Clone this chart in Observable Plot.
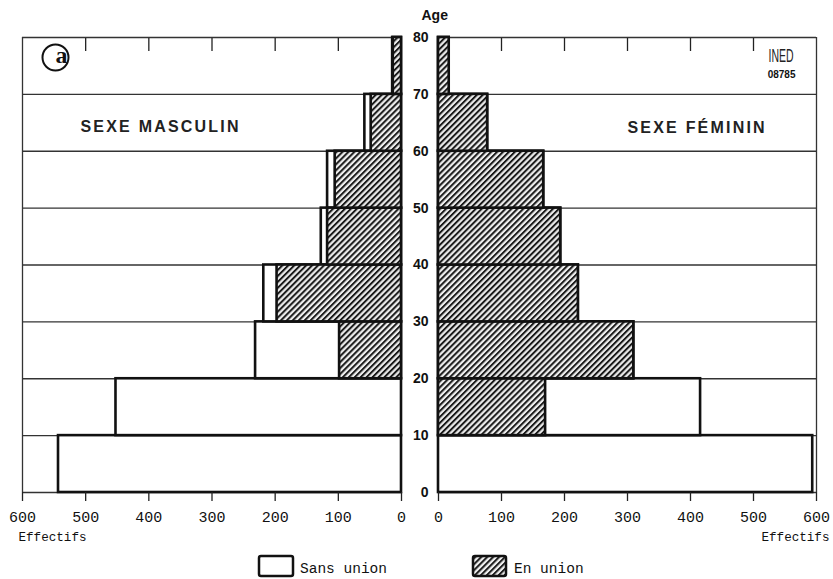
<!DOCTYPE html>
<html><head><meta charset="utf-8">
<script src="https://cdn.jsdelivr.net/npm/d3@7"></script>
<script src="https://cdn.jsdelivr.net/npm/@observablehq/plot@0.6"></script>
<style>
body{margin:0;background:#fff}
#wrap{position:relative;width:833px;height:579px;overflow:hidden;background:#fff}
#left,#right{position:absolute;top:0}
#left{left:0}
#right{left:410px}
.leg{position:absolute;font-family:"Liberation Mono",monospace;font-size:14.5px;color:#111}
g.sexe text{letter-spacing:2.2px}
</style></head><body>
<svg width="0" height="0" style="position:absolute">
 <defs>
  <pattern id="hatch" patternUnits="userSpaceOnUse" width="4.2" height="4.2" patternTransform="rotate(45)">
   <rect width="4.2" height="4.2" fill="#eeeeee"/>
   <line x1="1" y1="0" x2="1" y2="4.2" stroke="#1a1a1a" stroke-width="2"/>
  </pattern>
 </defs>
</svg>
<div id="wrap">
 <div id="left"></div>
 <div id="right"></div>
 <svg class="leg" style="left:257px;top:554px" width="38" height="24"><rect x="2" y="2" width="34" height="20" rx="2" fill="white" stroke="#111" stroke-width="2.5"/></svg>
 <div class="leg" style="left:300px;top:561px">Sans union</div>
 <svg class="leg" style="left:471px;top:554px" width="38" height="24"><rect x="2" y="2" width="33" height="20" rx="2" fill="url(#hatch)" stroke="#111" stroke-width="2.5"/></svg>
 <div class="leg" style="left:514px;top:561px">En union</div>
</div>
<script>
// Data
const ageStart = [0, 10, 20, 30, 40, 50, 60, 70];
const ageEnd = [10, 20, 30, 40, 50, 60, 70, 80];
const maleTotal = [543, 452, 231, 218, 127, 117, 58, 14];
const maleUnion = [0, 0, 98, 197, 117, 105, 48, 13];
const femaleTotal = [594, 416, 310, 222, 194, 167, 78, 17];
const femaleUnion = [0, 170, 310, 222, 194, 167, 78, 17];
const xTicks = [0, 100, 200, 300, 400, 500, 600];
const ageTicks = [0, 10, 20, 30, 40, 50, 60, 70, 80];

const rows = (tot, uni) => ageStart.map((a, i) => ({y1: a, y2: ageEnd[i], total: tot[i], union: uni[i]}));
const male = rows(maleTotal, maleUnion);
const female = rows(femaleTotal, femaleUnion);

const H = 545;
const monoFont = "Liberation Mono, monospace";
const sansFont = "Liberation Sans, Arial, sans-serif";

function common(data, side) {
  return [
    Plot.ruleY(ageTicks, {stroke: "#333", strokeWidth: 1.3}),
    Plot.ruleX([600], {stroke: "#333", strokeWidth: 1.3}),
    Plot.rectX(data, {x1: 0, x2: "total", y1: "y1", y2: "y2", fill: "white", stroke: "#111", strokeWidth: 2.6}),
    Plot.rectX(data.filter(d => d.union > 0), {x1: 0, x2: "union", y1: "y1", y2: "y2", fill: "url(#hatch)", stroke: "#111", strokeWidth: 2.6}),
    Plot.axisX(xTicks.slice(1, 6), {anchor: "top", tickSize: -13, tickFormat: () => "", stroke: "#222", strokeWidth: 1.3, label: null}),
    Plot.axisX(xTicks, {anchor: "bottom", tickSize: 9, tickPadding: 10, fontSize: 15, fontFamily: monoFont, stroke: "#222", strokeWidth: 1.3, label: null, fill: "#111"}),
    Plot.text(["Effectifs"], {frameAnchor: side === "left" ? "bottom-left" : "bottom-right", textAnchor: side === "left" ? "start" : "end", lineAnchor: "middle", dx: side === "left" ? -4 : 13, dy: 44, fontSize: 12.6, fontFamily: monoFont, fill: "#111"})
  ];
}

const left = Plot.plot({
  width: 410, height: H,
  marginLeft: 22, marginRight: 9, marginTop: 37, marginBottom: H - 492,
  x: {domain: [0, 600], reverse: true},
  y: {domain: [0, 80], axis: null},
  style: {background: "transparent", overflow: "visible"},
  marks: [
    ...common(male, "left"),
    Plot.dot([0], {frameAnchor: "top-left", dx: 33, dy: 20, r: 13, stroke: "#111", strokeWidth: 2, fill: "white"}),
    Plot.text(["a"], {frameAnchor: "top-left", lineAnchor: "middle", dx: 33, dy: 18, fontSize: 24, fontWeight: "bold", fontFamily: "Liberation Serif, serif", fill: "#111"}),
    Plot.text(["SEXE MASCULIN"], {frameAnchor: "top-left", lineAnchor: "middle", dx: 58, dy: 89, textAnchor: "start", fontSize: 16, fontWeight: "bold", fontFamily: sansFont, fill: "#222", className: "sexe"})
  ]
});

const right = Plot.plot({
  width: 423, height: H,
  marginLeft: 28, marginRight: 17, marginTop: 37, marginBottom: H - 492,
  x: {domain: [0, 600]},
  y: {domain: [0, 80], axis: null},
  style: {background: "transparent", overflow: "visible"},
  marks: [
    ...common(female, "right"),
    Plot.axisY(ageTicks, {anchor: "left", tickSize: 0, tickPadding: 10, fontSize: 14, fontWeight: "bold", fontFamily: sansFont, label: null, fill: "#111"}),
    Plot.text(["Age"], {frameAnchor: "top-left", lineAnchor: "middle", dx: -17, dy: -22, fontSize: 14, fontWeight: "bold", fontFamily: sansFont, fill: "#111"}),
    Plot.text(["SEXE FÉMININ"], {frameAnchor: "top-left", lineAnchor: "middle", dx: 189, dy: 90, textAnchor: "start", fontSize: 16, fontWeight: "bold", fontFamily: sansFont, fill: "#222", className: "sexe"}),
    Plot.text(["INED"], {frameAnchor: "top-right", lineAnchor: "middle", dx: -23, dy: 18, fontSize: 19, fontFamily: sansFont, fill: "#222", className: "ined"}),
    Plot.text(["08785"], {frameAnchor: "top-right", lineAnchor: "middle", dx: -21, dy: 37, fontSize: 10, fontWeight: "bold", fontFamily: sansFont, fill: "#111"})
  ]
});

document.getElementById("left").appendChild(left);
document.getElementById("right").appendChild(right);
// condense the INED logo lettering
d3.select(right).selectAll("g.ined text").attr("textLength", 25).attr("lengthAdjust", "spacingAndGlyphs");
d3.selectAll("g.sexe text").attr("letter-spacing", "2.2px");
</script>
</body></html>
